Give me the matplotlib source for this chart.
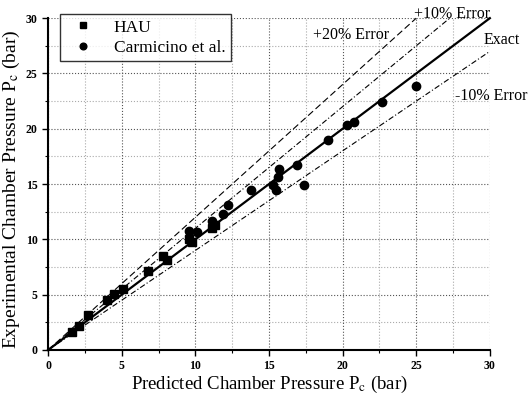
import numpy as np
import matplotlib
matplotlib.use("Agg")
import matplotlib.pyplot as plt
from matplotlib.ticker import MultipleLocator

plt.rcParams['font.family'] = ['Liberation Serif', 'DejaVu Serif']
plt.rcParams['mathtext.fontset'] = 'stix'

# HAU measurements (predicted, experimental)
hau_pred = [1.6, 2.1, 2.7, 4.0, 4.5, 5.1, 6.8, 7.8, 8.1, 9.6, 9.8, 11.1, 11.3]
hau_exp = [1.6, 2.2, 3.2, 4.5, 5.1, 5.5, 7.1, 8.5, 8.1, 10.0, 9.8, 11.0, 11.3]

# Carmicino et al. (predicted, experimental)
carm_pred = [9.6, 10.1, 11.1, 11.9, 12.2, 13.8, 15.3, 15.5, 15.6, 15.7,
             16.9, 17.4, 19.0, 20.3, 20.8, 22.7, 25.0]
carm_exp = [10.8, 10.7, 11.7, 12.3, 13.1, 14.5, 14.9, 14.5, 15.6, 16.4,
            16.7, 14.9, 19.0, 20.3, 20.6, 22.4, 23.9]

# error band factors and how far each line runs in x
err_factor = [1.2, 1.1, 1.0, 0.9]
err_xmax = [25.0, 27.3, 30.0, 30.0]

fig = plt.figure(figsize=(5.29, 3.95), dpi=100)
ax = fig.add_axes([0.091, 0.114, 0.835, 0.840])

styles = [dict(ls=(0, (6, 3)), lw=0.8),
          dict(ls=(0, (5, 2, 1, 2)), lw=0.8),
          dict(ls='-', lw=1.6),
          dict(ls=(0, (5, 2, 1, 2)), lw=0.8)]
for f, xm, st in zip(err_factor, err_xmax, styles):
    xs = np.array([0, xm])
    ax.plot(xs, f * xs, color='black', clip_on=False, **st)

ax.plot(hau_pred, hau_exp, 's', color='black', ms=6, label='HAU', zorder=3)
ax.plot(carm_pred, carm_exp, 'o', color='black', ms=6,
        label='Carmicino et al.', zorder=3)

ax.text(20.6, 28.5, '+20% Error', fontsize=11.5, ha='center', va='center')
ax.text(27.4, 30.4, '+10% Error', fontsize=11.5, ha='center', va='center')
ax.text(29.6, 28.0, 'Exact', fontsize=11.5, ha='left', va='center')
ax.text(27.6, 23.0, '-10% Error', fontsize=11.5, ha='left', va='center')

ax.set_xlim(0, 30)
ax.set_ylim(0, 30)
ax.xaxis.set_major_locator(MultipleLocator(5))
ax.yaxis.set_major_locator(MultipleLocator(5))
ax.xaxis.set_minor_locator(MultipleLocator(2.5))
ax.yaxis.set_minor_locator(MultipleLocator(2.5))
ax.grid(which='major', ls=':', color='#555555', lw=0.8)
ax.grid(which='minor', ls=':', color='#aaaaaa', lw=0.8)
ax.set_axisbelow(True)

ax.spines['top'].set_visible(False)
ax.spines['right'].set_visible(False)
ax.spines['left'].set_linewidth(1.5)
ax.spines['bottom'].set_linewidth(1.5)
ax.tick_params(which='major', direction='out', length=4, width=1,
               labelsize=8.5)
ax.tick_params(which='minor', direction='out', length=2, width=0.8)
for lab in ax.get_xticklabels() + ax.get_yticklabels():
    lab.set_fontweight('bold')

ax.set_xlabel(r'Predicted Chamber Pressure P$_{\rm c}$ (bar)', fontsize=13.5)
ax.set_ylabel(r'Experimental Chamber Pressure P$_{\rm c}$ (bar)', fontsize=14)
ax.xaxis.set_label_coords(0.502, -0.072)
ax.yaxis.set_label_coords(-0.06, 0.485)

leg = ax.legend(loc='upper left', bbox_to_anchor=(0.027, 1.012), fontsize=12.5,
                frameon=True, fancybox=False, edgecolor='black',
                borderaxespad=0, markerscale=0.8,
                handletextpad=0.8, borderpad=0.3, labelspacing=0.25)
leg.get_frame().set_linewidth(1.0)

fig.savefig('out.png', dpi=100)
